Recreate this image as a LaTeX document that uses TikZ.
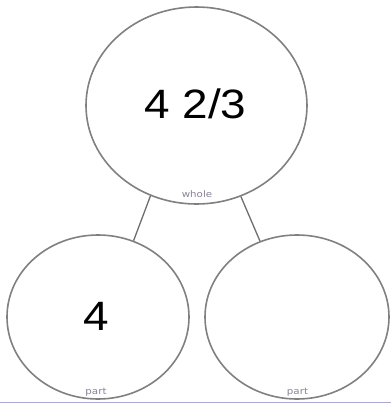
\documentclass[tikz,border=0pt]{standalone}
\usepackage{fontspec}
\usepackage{graphicx}
\setmainfont{Liberation Sans}
\newfontfamily\labelfont{DejaVu Sans}
\usetikzlibrary{shapes.geometric}

\definecolor{ringgray}{RGB}{128,128,128}
\definecolor{linkgray}{RGB}{110,110,110}
\definecolor{tagpurple}{RGB}{138,130,150}
\definecolor{rulelav}{RGB}{168,168,208}

\tikzset{
  bubble/.style={ellipse, draw=ringgray, line width=1.6pt, inner sep=0pt},
  tag/.style={text=tagpurple, font=\labelfont\fontsize{9}{9}\selectfont, inner sep=0pt},
  amount/.style={font=\fontsize{41}{41}\selectfont, inner sep=0pt}
}

\begin{document}
\begin{tikzpicture}[x=1pt, y=-1pt]

    \useasboundingbox (0,0) rectangle (391,405);

    % Whole
    \node[bubble, minimum width=221pt, minimum height=197pt] (whole) at (196.5,105.5) {};
    \node[amount] (wholeval) at (195.5,103.5) {\scalebox{1.12}[1]{4 2/3}};
    \node[tag] (wholetag) at (197,194) {\scalebox{1.14}[1]{whole}};

    % Parts
    \node[bubble, minimum width=182pt, minimum height=164pt] (partA) at (98,317) {};
    \node[bubble, minimum width=184pt, minimum height=164pt] (partB) at (297,317) {};
    \node[amount] (partAval) at (96,316.5) {\scalebox{1.12}[1]{4}};
    \node[tag] (partAtag) at (96,392) {\scalebox{1.14}[1]{part}};
    \node[tag] (partBtag) at (297.5,392) {\scalebox{1.14}[1]{part}};

    % Links
    \draw[linkgray, line width=1.3pt] (whole.243.8) -- (partA.65);
    \draw[linkgray, line width=1.3pt] (whole.296.4) -- (partB.116);

    % Bottom rule
    \coordinate (ruleL) at (0,402.5);
    \coordinate (ruleR) at (391,402.5);
    \draw[rulelav, line width=1.2pt] (ruleL) -- (ruleR);

\end{tikzpicture}
\end{document}
